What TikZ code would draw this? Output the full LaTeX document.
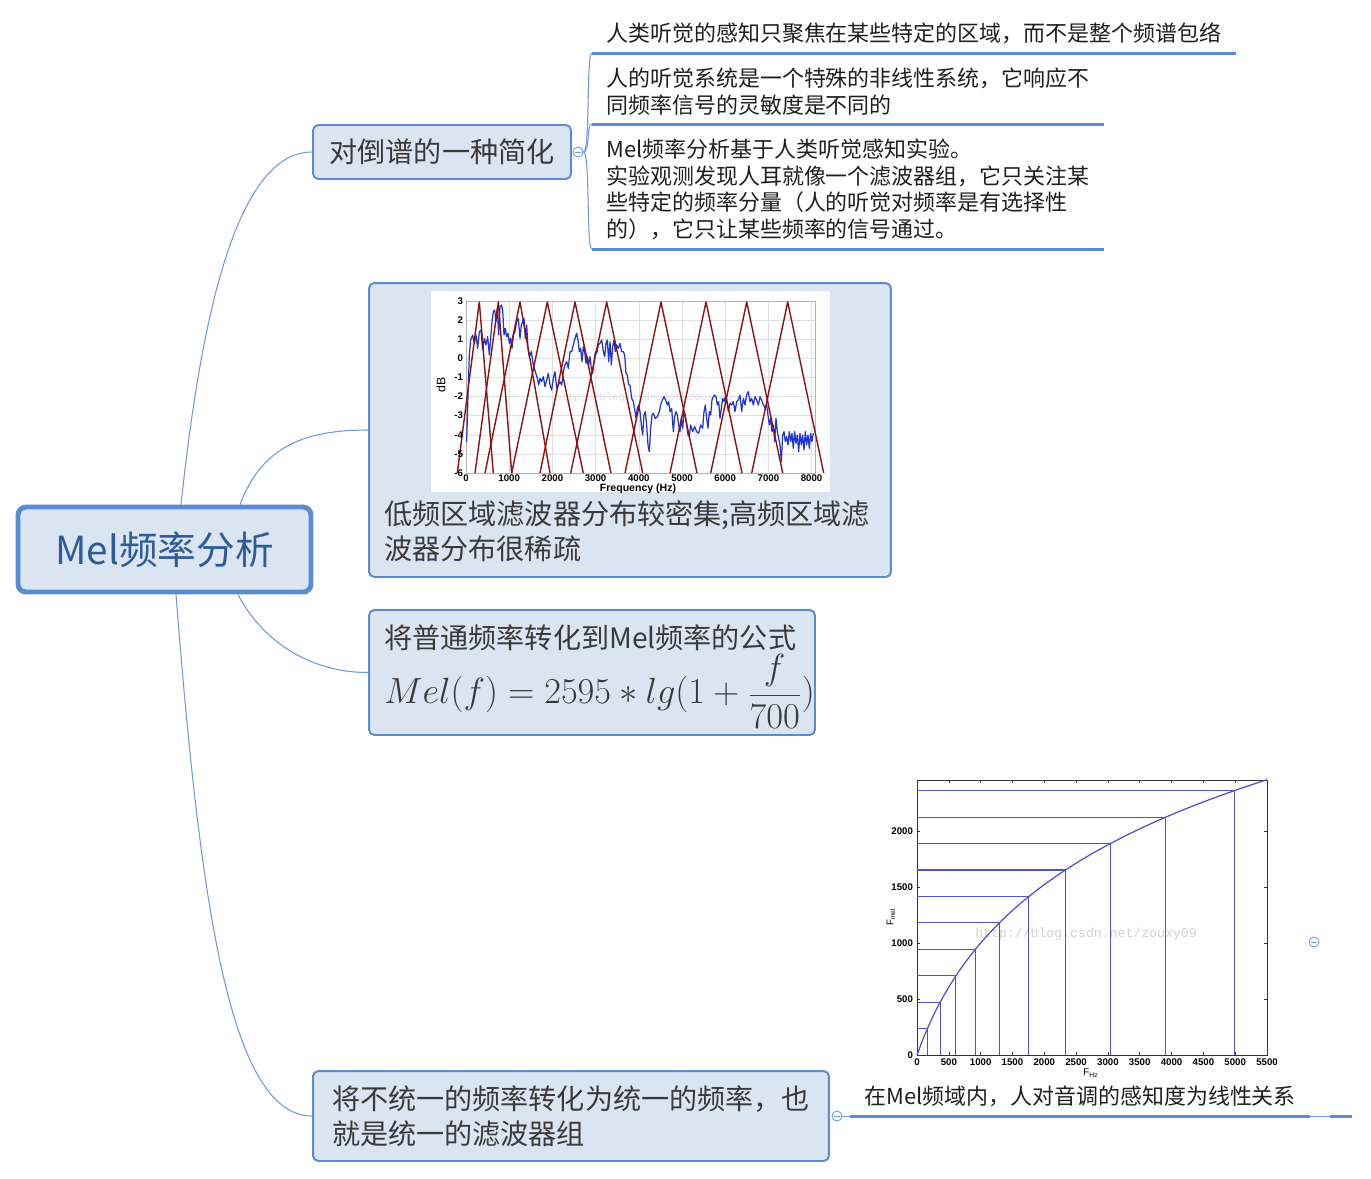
\documentclass[tikz,border=0pt]{standalone}
\usepackage{fontspec}
\setmainfont{Noto Sans CJK SC}
\newfontfamily\plotfont{Liberation Sans}
\newfontfamily\markfont{Liberation Mono}
\usetikzlibrary{positioning}

\definecolor{topicfill}{HTML}{DBE5F1}
\definecolor{topicline}{HTML}{5B8BD1}
\definecolor{branchline}{HTML}{6E9BD8}
\definecolor{roottext}{HTML}{2F5C99}
\definecolor{boxtext}{HTML}{3A3A3A}
\definecolor{filtred}{HTML}{8B1212}
\definecolor{specblue}{HTML}{1F35D0}
\definecolor{melblue}{HTML}{5050C8}

\tikzset{
  root/.style={draw=topicline, line width=2.8pt, fill=topicfill, rounded corners=4.5pt,
    minimum width=5.86cm, minimum height=1.7cm, text=roottext,
    font=\fontsize{22}{26}\selectfont},
  topic/.style={draw=topicline, line width=1.1pt, fill=topicfill, rounded corners=3pt,
    text=boxtext, align=left, font=\fontsize{16}{20}\selectfont},
  topictext/.style={text=boxtext, align=left, inner sep=0pt, font=\fontsize{16}{20}\selectfont},
  leaf/.style={inner xsep=0.28cm, inner ysep=0.17cm, align=left, text=black!88,
    font=\fontsize{12.5}{15.3}\selectfont},
  leafline/.style={draw=topicline, line width=1.7pt},
  branch/.style={draw=branchline, line width=0.6pt},
  fold/.style={circle, draw=branchline, fill=white, line width=0.5pt, minimum size=0.2cm,
    inner sep=0pt, path picture={\draw[branchline, line width=0.5pt]
      ([xshift=-0.06cm]path picture bounding box.center) -- ([xshift=0.06cm]path picture bounding box.center);}},
  gridline/.style={draw=gray!25, line width=0.3pt},
  ticklab/.style={font=\plotfont\fontsize{5.5}{6}\selectfont\bfseries, inner sep=1pt},
}

\begin{document}
\begin{tikzpicture}[x=0.02cm, y=-0.02cm]
  \useasboundingbox[fill=white] (0,0) rectangle (1371,1178);

  % central topic
  \node[root] (mel) at (164.5,549.5) {Mel频率分析};

  % topic 1 and its leaves
  \node[topic, minimum width=5.16cm, minimum height=1.08cm] (cep) at (442,152) {对倒谱的一种简化};
  \node[fold] (cepfold) at (578,152) {};
  \node[leaf, anchor=south west] (focus) at (592,53)
    {人类听觉的感知只聚焦在某些特定的区域，而不是整个频谱包络};
  \node[leaf, anchor=south west] (nonlin) at (592,124)
    {人的听觉系统是一个特殊的非线性系统，它响应不\\同频率信号的灵敏度是不同的};
  \node[leaf, anchor=south west] (exper) at (592,249)
    {Mel频率分析基于人类听觉感知实验。\\实验观测发现人耳就像一个滤波器组，它只关注某\\些特定的频率分量（人的听觉对频率是有选择性\\的），它只让某些频率的信号通过。};
  \foreach \n in {focus,nonlin,exper}
    \draw[leafline] (\n.south west) -- (\n.south east);
  \foreach \n in {focus,nonlin,exper}
    \draw[branch] (cepfold.east) .. controls +(7,0) and +(-6,0) .. (\n.south west);

  % topic 2: filter bank picture
  \node[topic, minimum width=10.44cm, minimum height=5.88cm] (filt) at (630,430) {};
  \fill[white] (431,291) rectangle (830,492);
  \foreach \k in {0,...,8}
    \draw[gridline] ({466+\k*43.2},301) -- ({466+\k*43.2},473);
  \foreach \d in {-6,...,3}
    \draw[gridline] (466,{301+(3-\d)*19.11}) -- (815,{301+(3-\d)*19.11});
  \draw[gray!60, line width=0.4pt] (466,301) rectangle (815,473);
  \node[text=gray!22, font=\markfont\fontsize{6}{7}\selectfont] at (644,398) {http://blog.csdn.net/zouxy09};
  \begin{scope}[shift={(420,285)}, x=0.02cm/3, y=-0.02cm/3]
    \draw[specblue, line width=0.7pt, line join=round] plot coordinates {
      (140,470) (142,400) (145,300) (148,210) (152,165) (158,150) (163,175) (168,150)
      (173,190) (178,140) (183,135) (188,195) (193,160) (198,180) (203,155) (208,210)
      (212,160) (216,110) (220,80) (224,75) (228,110) (232,70) (236,150) (240,65)
      (244,60) (248,75) (252,150) (256,130) (260,155) (264,145) (268,175) (272,160)
      (276,190) (280,150) (285,140) (290,110) (295,100) (300,160) (304,120) (308,110)
      (312,100) (316,160) (320,120) (324,190) (328,215) (334,200) (340,240) (346,260)
      (352,280) (356,300) (360,280) (365,290) (370,275) (375,305) (380,285) (385,265)
      (390,300) (395,315) (400,280) (405,260) (410,310) (415,300) (420,290) (425,300)
      (430,260) (435,240) (440,230) (445,250) (450,200) (455,200) (460,180) (465,160)
      (470,145) (474,165) (478,200) (482,190) (486,230) (490,185) (494,200) (498,235)
      (502,215) (506,240) (510,215) (514,250) (518,265) (522,230) (526,200) (530,205)
      (535,180) (540,175) (545,165) (550,200) (554,215) (558,175) (562,165) (566,230)
      (570,170) (574,240) (578,185) (582,165) (586,200) (590,180) (595,190) (600,175)
      (605,200) (610,200) (614,210) (618,265) (622,270) (626,300) (630,300) (635,340)
      (640,350) (645,380) (648,400) (652,370) (656,360) (660,380) (664,420) (668,450)
      (672,390) (676,380) (680,420) (684,480) (688,500) (692,430) (696,390) (700,385)
      (706,400) (712,395) (718,380) (722,360) (727,345) (732,335) (737,345) (742,360)
      (746,350) (750,380) (755,370) (760,440) (764,395) (768,380) (772,390) (776,420)
      (780,440) (784,400) (788,430) (792,380) (796,390) (800,420) (804,450) (808,455)
      (812,420) (818,440) (824,425) (830,440) (836,445) (842,420) (848,430) (852,380)
      (856,360) (860,400) (864,430) (868,380) (872,390) (876,345) (880,335) (884,330)
      (888,335) (892,360) (896,350) (900,400) (904,370) (908,340) (912,350) (916,335)
      (920,345) (925,380) (930,355) (935,360) (940,350) (945,380) (950,350) (955,345)
      (960,330) (965,380) (970,340) (975,360) (980,330) (985,320) (990,350) (995,340)
      (1000,360) (1005,335) (1010,345) (1015,360) (1020,335) (1025,345) (1030,360) (1035,370)
      (1040,360) (1044,390) (1048,420) (1052,400) (1056,440) (1060,420) (1064,470) (1068,400)
      (1072,440) (1076,460) (1080,480) (1084,530) (1088,450) (1092,440) (1096,470) (1100,455)
      (1104,480) (1108,440) (1112,470) (1116,445) (1120,490) (1124,440) (1128,475) (1132,450)
      (1136,500) (1140,445) (1144,480) (1148,450) (1152,495) (1156,440) (1160,480) (1164,450)
      (1168,490) (1172,445) (1176,470) (1180,445)};
  \end{scope}
  \foreach \l/\p/\r in {457.3/479.3/493.3, 475/498.3/511.7, 485/520/550, 511.7/547.3/583.3,
      540/575/611, 570.7/606.7/642.7, 625/661/697, 670/706/742, 710.7/746.7/782.7, 751.7/787.7/823.7}
    \draw[filtred, line width=0.8pt, line join=round] (\l,473) -- (\p,302) -- (\r,473);
  \foreach \d in {-6,...,3}
    \node[ticklab, anchor=east] at (465,{301+(3-\d)*19.11}) {\d};
  \foreach \k [evaluate=\k as \lab using int(\k*1000)] in {0,...,8}
    \node[ticklab] at ({466+\k*43.2},478) {\lab};
  \node[font=\plotfont\fontsize{7}{8}\selectfont, rotate=90] at (441,385) {dB};
  \node[font=\plotfont\fontsize{6}{6.5}\selectfont\bfseries, inner sep=0.5pt] at (638,488.5) {Frequency (Hz)};
  \node[topictext, anchor=west] (filttext) at (384,531.5)
    {低频区域滤波器分布较密集;高频区域滤\\波器分布很稀疏};

  % topic 3: formula
  \node[topic, minimum width=8.92cm, minimum height=2.5cm] (formula) at (592,672.5) {};
  \node[topictext, anchor=north west] (formtext) at (384,624)
    {将普通频率转化到Mel频率的公式\\[1pt]
     {\fontsize{19.7}{24}\selectfont$\displaystyle Mel(f)=2595*lg(1+\frac{f}{700})$}};

  % topic 4: unified filter bank
  \node[topic, minimum width=10.32cm, minimum height=1.8cm] (unify) at (571,1116)
    {将不统一的频率转化为统一的频率，也\\就是统一的滤波器组};
  \node[fold] (unifyfold) at (837,1116) {};

  % mel scale picture
  \draw[black!80, line width=0.4pt] (917,780) rectangle (1267,1055);
  \foreach \k [evaluate=\k as \xx using 917+\k*350/11, evaluate=\k as \lab using int(\k*500)] in {0,...,11} {
    \draw[black!80, line width=0.3pt] (\xx,1055) -- ++(0,-3) (\xx,780) -- ++(0,3);
    \node[ticklab] at (\xx,1062.5) {\lab};
  }
  \foreach \k [evaluate=\k as \yy using 1055-\k*56, evaluate=\k as \lab using int(\k*500)] in {0,...,4} {
    \draw[black!80, line width=0.3pt] (917,\yy) -- ++(3,0) (1267,\yy) -- ++(-3,0);
    \node[ticklab, anchor=east] at (915,\yy) {\lab};
  }
  \node[font=\plotfont\fontsize{5.5}{6}\selectfont] at (1091,1073) {F\textsubscript{Hz}};
  \node[font=\plotfont\fontsize{5.5}{6}\selectfont, rotate=90] at (891,917) {F\textsubscript{mel}};
  \node[text=gray!35, font=\markfont\fontsize{7.5}{8}\selectfont] at (1086,934) {http://blog.csdn.net/zouxy09};
  \foreach \m in {1,...,10} {
    \pgfmathsetmacro\ff{700*(pow(10,236*\m/2595)-1)}
    \pgfmathsetmacro\xx{917+\ff/5500*350}
    \pgfmathsetmacro\yy{1055-0.112*236*\m}
    \draw[melblue, line width=0.6pt] (917,\yy) -- (\xx,\yy) -- (\xx,1055);
  }
  \draw[melblue, line width=0.7pt] plot[domain=0:5500, samples=90]
    ({917+\x/5500*350}, {1055-0.112*2595*log10(1+\x/700)});
  \node[fold] (melfold) at (1314,942) {};
  \node[leaf, anchor=south west] (melcap) at (850,1116) {在Mel频域内，人对音调的感知度为线性关系};
  \draw[leafline] (melcap.south west) -- (melcap.south east);
  \coordinate (stub) at (1330,1116);
  \draw[branch] (melcap.south east) -- (stub);
  \draw[leafline] (stub) -- ++(22,0);
  \draw[branch] (unifyfold.east) -- (melcap.south west);

  % branches from the central topic
  \draw[branch] ([xshift=0.33cm]mel.north) .. controls +(19,-177) and +(-78,0) .. (cep.west);
  \draw[branch] ([xshift=1.51cm]mel.north) .. controls +(22,-58) and +(-64,0) .. (filt.west);
  \draw[branch] ([xshift=1.47cm]mel.south) .. controls +(24,46) and +(-59,0) .. (formula.west);
  \draw[branch] ([xshift=0.23cm]mel.south) .. controls +(24,306) and +(-83,0) .. (unify.west);
\end{tikzpicture}
\end{document}
